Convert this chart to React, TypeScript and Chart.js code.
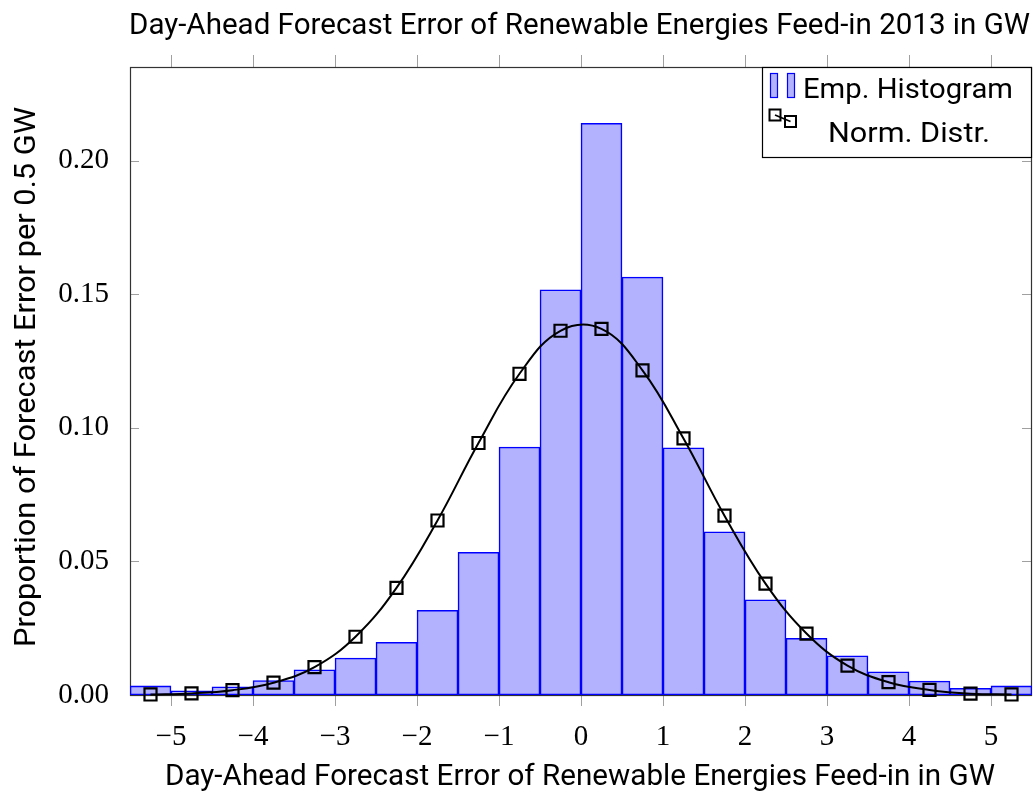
import { useEffect, useRef } from 'react';
import { Chart, registerables } from 'chart.js';

Chart.register(...registerables);

// ---------- data ----------
const binCenters = [
  -5.25, -4.75, -4.25, -3.75, -3.25, -2.75, -2.25, -1.75, -1.25, -0.75, -0.25,
  0.25, 0.75, 1.25, 1.75, 2.25, 2.75, 3.25, 3.75, 4.25, 4.75, 5.25,
];
const histValues = [
  0.0034, 0.0016, 0.0031, 0.0054, 0.0094, 0.0138, 0.0197, 0.0317, 0.0534, 0.0928, 0.1516,
  0.2139, 0.1564, 0.0925, 0.0611, 0.0356, 0.0212, 0.0147, 0.0087, 0.0052, 0.0025, 0.0034,
];
const normValues = [
  0.0002, 0.0006, 0.0018, 0.0046, 0.0104, 0.0218, 0.0401, 0.0653, 0.0943, 0.1202, 0.1363,
  0.137, 0.1215, 0.096, 0.0671, 0.0417, 0.023, 0.011, 0.0048, 0.0019, 0.0005, 0.0002,
];
const xTickValues = [-5, -4, -3, -2, -1, 0, 1, 2, 3, 4, 5];
const yTickValues = [0, 0.05, 0.1, 0.15, 0.2];
const xMin = -5.5;
const xMax = 5.5;
const yMin = 0;
const yMax = 0.235;
const titleText = 'Day-Ahead Forecast Error of Renewable Energies Feed-in 2013 in GW';
const xTitle = 'Day-Ahead Forecast Error of Renewable Energies Feed-in in GW';
const yTitle = 'Proportion of Forecast Error per 0.5 GW';
const legendLabels = ['Emp. Histogram', 'Norm. Distr.'];

const SANS = "Roboto, 'DejaVu Sans', sans-serif";
const SERIF = "'Liberation Serif', 'DejaVu Serif', serif";
const BAR_FILL = 'rgba(0,0,255,0.3)';
const BAR_EDGE = '#0000ff';

function fitText(
  ctx: CanvasRenderingContext2D,
  text: string,
  x: number,
  y: number,
  w: number,
  font: string,
  align: CanvasTextAlign,
  rotate = 0
) {
  ctx.save();
  ctx.font = font;
  const m = ctx.measureText(text).width;
  const s = w / m;
  ctx.translate(x, y);
  if (rotate) ctx.rotate(rotate);
  ctx.scale(s, 1);
  ctx.textAlign = align;
  ctx.textBaseline = 'alphabetic';
  ctx.fillStyle = '#000';
  ctx.fillText(text, 0, 0);
  ctx.restore();
}

const framePlugin = {
  id: 'framePlugin',
  beforeDatasetsDraw(chart: any) {
    const ctx: CanvasRenderingContext2D = chart.ctx;
    const { left, right, top, bottom } = chart.chartArea;
    const xs = chart.scales.x;
    const ys = chart.scales.y;
    ctx.save();
    ctx.strokeStyle = '#a0a0a0';
    ctx.lineWidth = 1;
    ctx.beginPath();
    for (const v of xTickValues) {
      const px = Math.round(xs.getPixelForValue(v)) + 0.5;
      ctx.moveTo(px, bottom);
      ctx.lineTo(px, bottom + 11);
      ctx.moveTo(px, top - 12);
      ctx.lineTo(px, top);
    }
    for (const v of yTickValues) {
      const py = Math.round(ys.getPixelForValue(v)) + 0.5;
      ctx.moveTo(left, py);
      ctx.lineTo(left + 9, py);
      ctx.moveTo(right - 10, py);
      ctx.lineTo(right, py);
    }
    ctx.stroke();
    ctx.strokeStyle = '#333';
    ctx.lineWidth = 1.2;
    ctx.strokeRect(left + 0.5, top + 0.5, right - left - 1, bottom - top);
    ctx.restore();
  },
  afterDraw(chart: any) {
    const ctx: CanvasRenderingContext2D = chart.ctx;
    const { right, top } = chart.chartArea;
    // titles
    fitText(ctx, titleText, 129, 34, 901, `29px ${SANS}`, 'left');
    fitText(ctx, xTitle, 580, 785, 830, `29px ${SANS}`, 'center');
    fitText(ctx, yTitle, 35, 377, 540, `29px ${SANS}`, 'center', -Math.PI / 2);

    // legend
    const bx = 762.5;
    const by = top + 0.5;
    const bw = right - 0.5 - bx;
    const bh = 90;
    ctx.save();
    ctx.fillStyle = '#fff';
    ctx.fillRect(bx, by, bw, bh);
    ctx.strokeStyle = '#000';
    ctx.lineWidth = 1.2;
    ctx.strokeRect(bx, by, bw, bh);
    // bar icon
    ctx.fillStyle = BAR_FILL;
    ctx.strokeStyle = BAR_EDGE;
    ctx.lineWidth = 1.2;
    for (const ix of [770.5, 787.5]) {
      ctx.fillRect(ix, 73.5, 7, 24);
      ctx.strokeRect(ix, 73.5, 7, 24);
    }
    // line icon
    ctx.strokeStyle = '#000';
    ctx.lineWidth = 1.6;
    ctx.beginPath();
    ctx.moveTo(775, 115);
    ctx.lineTo(790.5, 121.5);
    ctx.stroke();
    ctx.lineWidth = 2;
    ctx.strokeRect(769.5, 109.5, 11, 11);
    ctx.strokeRect(785, 116, 11, 11);
    ctx.restore();
    fitText(ctx, legendLabels[0], 803, 98, 210, `27px ${SANS}`, 'left');
    fitText(ctx, legendLabels[1], 828, 142, 162, `27px ${SANS}`, 'left');
  },
};

export default function App() {
  const ref = useRef<HTMLCanvasElement | null>(null);
  useEffect(() => {
    if (!ref.current) return;
    const chart = new Chart(ref.current, {
      type: 'bar',
      data: {
        datasets: [
          {
            type: 'line',
            label: legendLabels[1],
            data: binCenters.map((x, i) => ({ x, y: normValues[i] })),
            borderColor: '#000',
            borderWidth: 2,
            backgroundColor: 'rgba(0,0,0,0)',
            pointStyle: 'rect',
            pointRadius: 8.5,
            pointBorderWidth: 2.2,
            pointBorderColor: '#000',
            pointBackgroundColor: 'rgba(0,0,0,0)',
            tension: 0.4,
            clip: false,
            order: 1,
          } as any,
          {
            type: 'bar',
            label: legendLabels[0],
            data: binCenters.map((x, i) => ({ x, y: histValues[i] })),
            backgroundColor: BAR_FILL,
            borderColor: BAR_EDGE,
            borderWidth: 0.9,
            borderSkipped: false,
            barPercentage: 1,
            categoryPercentage: 1,
            order: 2,
          } as any,
        ],
      },
      options: {
        responsive: false,
        animation: false,
        layout: { autoPadding: false, padding: { top: 67, right: 3, left: 0, bottom: 0 } },
        plugins: {
          legend: { display: false },
          title: { display: false },
          tooltip: { enabled: false },
        },
        scales: {
          x: {
            type: 'linear',
            min: xMin,
            max: xMax,
            offset: false,
            grid: { display: false },
            border: { display: false },
            afterBuildTicks: (s: any) => {
              s.ticks = xTickValues.map((v) => ({ value: v }));
            },
            afterFit: (s: any) => {
              s.height = 97;
              s.paddingLeft = 0;
              s.paddingRight = 0;
            },
            ticks: {
              autoSkip: false,
              maxRotation: 0,
              padding: 17,
              color: '#000',
              font: { family: SERIF, size: 29 },
              callback: (v: any) => (Number(v) < 0 ? '\u2212' + Math.abs(Number(v)) : String(v)),
            },
          },
          y: {
            type: 'linear',
            min: yMin,
            max: yMax,
            grid: { display: false },
            border: { display: false },
            afterBuildTicks: (s: any) => {
              s.ticks = yTickValues.map((v) => ({ value: v }));
            },
            afterFit: (s: any) => {
              s.width = 130;
            },
            ticks: {
              padding: 13,
              color: '#000',
              font: { family: SERIF, size: 29 },
              callback: (v: any) => Number(v).toFixed(2),
            },
          },
        },
      } as any,
      plugins: [framePlugin],
    });
    return () => chart.destroy();
  }, []);
  return (
    <div style={{ position: 'absolute', left: 0, top: 0, width: 1035, height: 792, background: '#fff' }}>
      <canvas ref={ref} width={1035} height={792} style={{ width: 1035, height: 792 }} />
    </div>
  );
}
